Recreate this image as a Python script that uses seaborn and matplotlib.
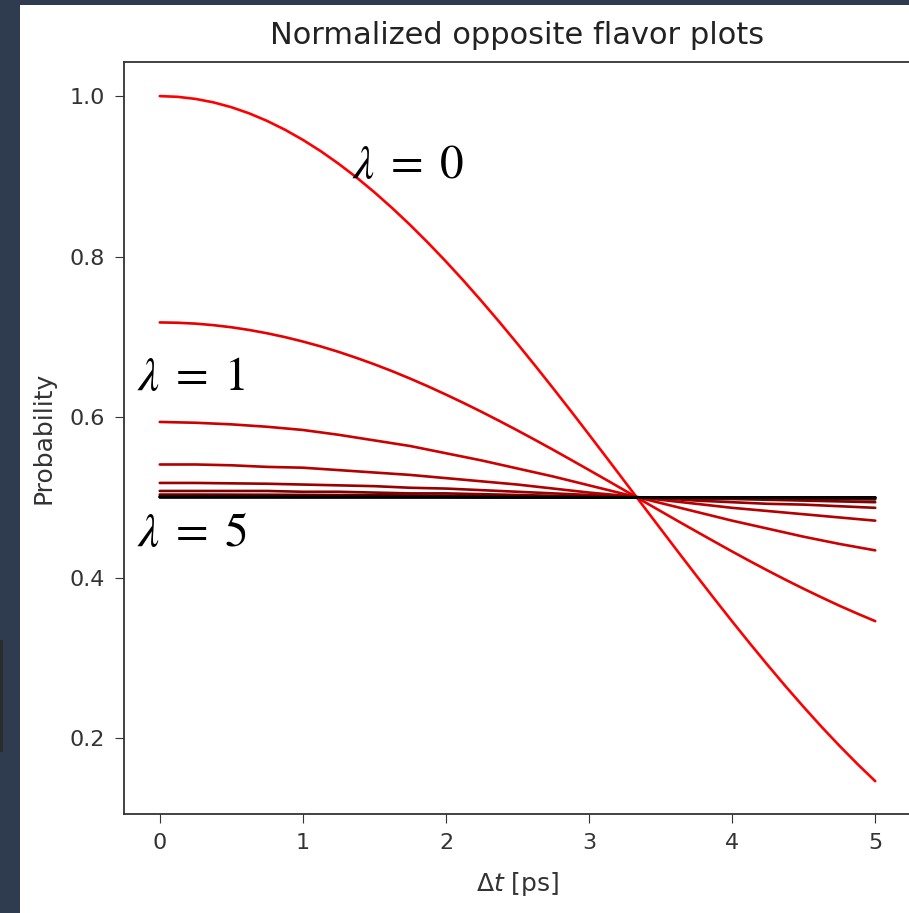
import numpy as np
import pandas as pd
import matplotlib
matplotlib.use("Agg")
import matplotlib.pyplot as plt
import seaborn as sns
from matplotlib.patches import Rectangle

# time grids [ps]: fine grid for the two steep curves, coarse for the rest
t_fine = [0.0, 0.125, 0.25, 0.375, 0.5, 0.625, 0.75, 0.875, 1.0, 1.125, 1.25,
          1.375, 1.5, 1.625, 1.75, 1.875, 2.0, 2.125, 2.25, 2.375, 2.5,
          2.625, 2.75, 2.875, 3.0, 3.125, 3.25, 3.375, 3.5, 3.625, 3.75,
          3.875, 4.0, 4.125, 4.25, 4.375, 4.5, 4.625, 4.75, 4.875, 5.0]
t = [0.0, 0.25, 0.5, 0.75, 1.0, 1.25, 1.5, 1.75, 2.0, 2.25, 2.5,
     2.75, 3.0, 3.25, 3.5, 3.75, 4.0, 4.25, 4.5, 4.75, 5.0]

# probability curves, one per lambda
p_lam0 = [1.0000, 0.9991, 0.9965, 0.9922, 0.9862, 0.9785, 0.9691, 0.9581, 0.9455, 0.9314, 0.9157,
          0.8987, 0.8802, 0.8604, 0.8394, 0.8172, 0.7939, 0.7696, 0.7443, 0.7182, 0.6913,
          0.6638, 0.6357, 0.6072, 0.5782, 0.5490, 0.5196, 0.4902, 0.4608, 0.4315, 0.4025,
          0.3738, 0.3455, 0.3178, 0.2907, 0.2643, 0.2388, 0.2141, 0.1905, 0.1679, 0.1464]
p_lam1 = [0.7180, 0.7176, 0.7165, 0.7146, 0.7120, 0.7086, 0.7045, 0.6997, 0.6942, 0.6881, 0.6813,
          0.6738, 0.6658, 0.6572, 0.6480, 0.6383, 0.6281, 0.6175, 0.6065, 0.5951, 0.5834,
          0.5714, 0.5592, 0.5467, 0.5341, 0.5214, 0.5086, 0.4957, 0.4829, 0.4701, 0.4575,
          0.4450, 0.4326, 0.4205, 0.4087, 0.3972, 0.3861, 0.3754, 0.3650, 0.3552, 0.3458]
p_lam2 = [0.594, 0.593, 0.591, 0.588, 0.584, 0.578, 0.571, 0.564, 0.555, 0.546, 0.536,
          0.526, 0.515, 0.504, 0.493, 0.482, 0.471, 0.461, 0.451, 0.442, 0.434]
p_lam3 = [0.541, 0.541, 0.540, 0.538, 0.537, 0.534, 0.531, 0.528, 0.524, 0.520, 0.516,
          0.511, 0.506, 0.502, 0.497, 0.492, 0.487, 0.483, 0.479, 0.475, 0.471]
p_lam4 = [0.518, 0.518, 0.5175, 0.517, 0.516, 0.515, 0.514, 0.512, 0.511, 0.509, 0.507,
          0.505, 0.503, 0.501, 0.499, 0.496, 0.494, 0.492, 0.491, 0.489, 0.487]
p_lam5 = [0.508, 0.508, 0.508, 0.508, 0.507, 0.507, 0.506, 0.505, 0.505, 0.504, 0.503,
          0.502, 0.501, 0.500, 0.499, 0.498, 0.498, 0.497, 0.496, 0.495, 0.494]
p_lam6 = [0.5035, 0.5035, 0.5034, 0.5033, 0.5031, 0.5029, 0.5027, 0.5024, 0.5021, 0.5017, 0.5013,
          0.5010, 0.5005, 0.5001, 0.4997, 0.4993, 0.4989, 0.4985, 0.4982, 0.4978, 0.4975]
p_lam7 = [0.5015, 0.5015, 0.5015, 0.5014, 0.5013, 0.5012, 0.5011, 0.5010, 0.5009, 0.5007, 0.5006,
          0.5004, 0.5002, 0.5001, 0.4999, 0.4997, 0.4995, 0.4994, 0.4992, 0.4991, 0.4989]
p_lam8 = [0.5006, 0.5006, 0.5006, 0.5006, 0.5005, 0.5005, 0.5005, 0.5004, 0.5004, 0.5003, 0.5002,
          0.5002, 0.5001, 0.5000, 0.5000, 0.4999, 0.4998, 0.4997, 0.4997, 0.4996, 0.4996]
p_lam9 = [0.5003, 0.5003, 0.5003, 0.5003, 0.5002, 0.5002, 0.5002, 0.5002, 0.5002, 0.5001, 0.5001,
          0.5001, 0.5000, 0.5000, 0.5000, 0.4999, 0.4999, 0.4999, 0.4998, 0.4998, 0.4998]
p_lam10 = [0.5001, 0.5001, 0.5001, 0.5001, 0.5001, 0.5001, 0.5001, 0.5001, 0.5001, 0.5000, 0.5000,
           0.5000, 0.5000, 0.5000, 0.5000, 0.5000, 0.4999, 0.4999, 0.4999, 0.4999, 0.4999]

lambdas = [0, 1, 2, 3, 4, 5, 6, 7, 8, 9, 10]
curves = [p_lam0, p_lam1, p_lam2, p_lam3, p_lam4, p_lam5,
          p_lam6, p_lam7, p_lam8, p_lam9, p_lam10]

x_ticks = [0, 1, 2, 3, 4, 5]
y_ticks = [0.2, 0.4, 0.6, 0.8, 1.0]

df = pd.concat([pd.DataFrame({"t": t_fine if len(c) == len(t_fine) else t, "p": c, "lam": lam})
                for lam, c in zip(lambdas, curves)], ignore_index=True)

# red fading to black as lambda grows
palette = {lam: (1 - lam / 10, 0, 0) for lam in lambdas}

sns.set_style("ticks")
plt.rcParams["font.family"] = ["DejaVu Sans"]

fig = plt.figure(figsize=(9.09, 9.13), dpi=100, facecolor="#2f3b4f")
# white canvas with the dark strip on the left/top (behind the axes)
fig.patches.append(Rectangle((20 / 909, 0), 1, 908 / 913, transform=fig.transFigure,
                             facecolor="white", edgecolor="none", zorder=-2))
fig.patches.append(Rectangle((0, 161 / 913), 3 / 909, 112 / 913, transform=fig.transFigure,
                             facecolor="#2b2b2b", edgecolor="none", zorder=-2))

ax = fig.add_axes([124 / 909, 99 / 913, 787 / 909, 752 / 913])
sns.lineplot(data=df, x="t", y="p", hue="lam", palette=palette, legend=False,
             linewidth=1.9, ax=ax)

ax.set_xlim(-0.25, 5.25)
ax.set_ylim(0.1055, 1.0425)
ax.set_xticks(x_ticks)
ax.set_yticks(y_ticks)
ax.tick_params(labelsize=16, colors="#333333", length=6.5, pad=7.5)
for s in ax.spines.values():
    s.set_color("#333333")
    s.set_linewidth(1.3)

ax.set_title("Normalized opposite flavor plots", fontsize=22, color="#222222", pad=13)
ax.set_xlabel(r"$\Delta t$ [ps]", fontsize=18, color="#333333", labelpad=12)
ax.set_ylabel("Probability", fontsize=18, color="#333333", labelpad=10)

ax.text(-0.16, 0.634, r"$\lambda\;=\;1$", fontsize=34, math_fontfamily="stix", color="black")
ax.text(1.34, 0.8976, r"$\lambda\;=\;0$", fontsize=34, math_fontfamily="stix", color="black")
ax.text(-0.16, 0.4395, r"$\lambda\;=\;5$", fontsize=34, math_fontfamily="stix", color="black")

fig.savefig("out.png", dpi=100, facecolor=fig.get_facecolor())
